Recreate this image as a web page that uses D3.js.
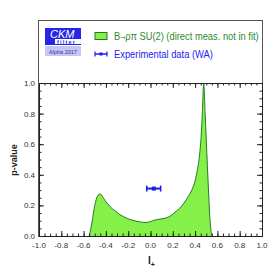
<!DOCTYPE html>
<html>
<head>
<meta charset="utf-8">
<script src="https://cdn.jsdelivr.net/npm/d3@7"></script>
<style>
    body { margin: 0; background: #fff; }
    svg { display: block; }
    text { font-family: "Liberation Sans Narrow", "Liberation Sans", Arial, sans-serif; }
</style>
</head>
<body>
<div id="chart"></div>
<script>
// p-value scan of I+ (B -> rho pi SU(2), direct meas. not in fit)
var curveX = [-0.55, -0.535, -0.52, -0.505, -0.49, -0.475, -0.46, -0.45, -0.44, -0.42, -0.39, -0.36, -0.32, -0.29, -0.25,
    -0.21, -0.17, -0.13, -0.09, -0.05, -0.02, 0.02, 0.06, 0.10, 0.14, 0.18, 0.22, 0.26, 0.30, 0.34,
    0.37, 0.40, 0.42, 0.44, 0.455, 0.465, 0.477, 0.49, 0.50, 0.51, 0.52, 0.53, 0.54, 0.55];
var curveP = [0.0, 0.05, 0.11, 0.18, 0.23, 0.262, 0.274, 0.275, 0.268, 0.245, 0.215, 0.19, 0.165, 0.148, 0.13,
    0.115, 0.105, 0.097, 0.092, 0.088, 0.09, 0.1, 0.108, 0.112, 0.118, 0.132, 0.155, 0.18, 0.215, 0.26,
    0.30, 0.36, 0.43, 0.53, 0.66, 0.80, 1.0, 0.80, 0.63, 0.46, 0.30, 0.15, 0.05, 0.0];

// experimental average
var expCenter = [0.03];
var expLow = [-0.034];
var expHigh = [0.091];
var expY = [0.31];

var xTicks = [-1.0, -0.8, -0.6, -0.4, -0.2, 0.0, 0.2, 0.4, 0.6, 0.8, 1.0];
var yTicks = [0.0, 0.2, 0.4, 0.6, 0.8, 1.0];

var legendLabels = ["B", "\u2192", "\u03c1\u03c0 SU(2) (direct meas. not in fit)", "Experimental data (WA)"];

var fillColor = "#84f048",
    edgeColor = "#237a23",
    blue = "#1c1cf0";

var W = 276, H = 276;
var margin = {top: 83, right: 14, bottom: 40, left: 39};
var width = W - margin.left - margin.right,
    height = H - margin.top - margin.bottom;

var svg = d3.select("#chart").append("svg")
    .attr("width", W)
    .attr("height", H);

var x = d3.scaleLinear().domain([-1, 1]).range([margin.left, margin.left + width]);
var y = d3.scaleLinear().domain([0, 1]).range([margin.top + height, margin.top]);

var data = curveX.map(function(d, i) { return {x: d, p: curveP[i]}; });

// outer frame (legend box shares the sides)
svg.append("rect")
    .attr("x", margin.left - 0.5)
    .attr("y", 20.5)
    .attr("width", width + 1)
    .attr("height", margin.top + height - 20)
    .attr("fill", "none")
    .attr("stroke", "#555")
    .attr("stroke-width", 1);

// filled curve
var area = d3.area()
    .x(function(d) { return x(d.x); })
    .y0(y(0))
    .y1(function(d) { return y(d.p); })
    .curve(d3.curveMonotoneX);

svg.append("path")
    .datum(data)
    .attr("d", area)
    .attr("fill", fillColor);

var line = d3.line()
    .x(function(d) { return x(d.x); })
    .y(function(d) { return y(d.p); })
    .curve(d3.curveMonotoneX);

svg.append("path")
    .datum(data)
    .attr("d", line)
    .attr("fill", "none")
    .attr("stroke", edgeColor)
    .attr("stroke-width", 1);

// axes, ticks pointing inward like ROOT
function minorTicks(lo, hi, step) {
    var out = [];
    for (var v = lo; v <= hi + 1e-9; v += step) out.push(+v.toFixed(3));
    return out;
}
var xMinor = minorTicks(-1, 1, 0.05);
var yMinor = minorTicks(0, 1, 0.05);

var axBottom = svg.append("g")
    .attr("transform", "translate(0," + y(0) + ")");
axBottom.call(d3.axisBottom(x).tickValues(xMinor).tickSize(-2.5).tickFormat(""));
axBottom.append("g").call(d3.axisBottom(x).tickValues(xTicks).tickSize(-5).tickFormat(""));

var axTop = svg.append("g")
    .attr("transform", "translate(0," + y(1) + ")");
axTop.call(d3.axisTop(x).tickValues(xMinor).tickSize(-2.5).tickFormat(""));
axTop.append("g").call(d3.axisTop(x).tickValues(xTicks).tickSize(-5).tickFormat(""));

var axLeft = svg.append("g")
    .attr("transform", "translate(" + x(-1) + ",0)");
axLeft.call(d3.axisLeft(y).tickValues(yMinor).tickSize(-2.5).tickFormat(""));
axLeft.append("g").call(d3.axisLeft(y).tickValues(yTicks).tickSize(-5).tickFormat(""));

var axRight = svg.append("g")
    .attr("transform", "translate(" + x(1) + ",0)");
axRight.call(d3.axisRight(y).tickValues(yMinor).tickSize(-2.5).tickFormat(""));
axRight.append("g").call(d3.axisRight(y).tickValues(yTicks).tickSize(-5).tickFormat(""));

svg.selectAll(".domain, .tick line")
    .attr("stroke", "#222")
    .attr("stroke-width", 1);

// tick labels
svg.append("g")
    .selectAll("text")
    .data(xTicks).enter()
    .append("text")
    .attr("x", function(d) { return x(d); })
    .attr("y", y(0) + 12)
    .attr("text-anchor", "middle")
    .attr("font-size", 8)
    .attr("fill", "#333")
    .text(function(d) { return d3.format(".1f")(d).replace("\u2212", "-"); });

svg.append("g")
    .selectAll("text")
    .data(yTicks).enter()
    .append("text")
    .attr("x", margin.left - 4)
    .attr("y", function(d) { return y(d) + 3; })
    .attr("text-anchor", "end")
    .attr("font-size", 8)
    .attr("fill", "#333")
    .text(function(d) { return d3.format(".1f")(d); });

// axis titles
var xt = svg.append("text")
    .attr("x", 148)
    .attr("y", 264)
    .attr("font-size", 10)
    .attr("font-weight", "bold")
    .attr("fill", "#222")
    .text("I");
xt.append("tspan")
    .attr("font-size", 7)
    .attr("dy", 3)
    .text("+");

svg.append("text")
    .attr("transform", "translate(17,160) rotate(-90)")
    .attr("text-anchor", "middle")
    .attr("font-size", 9)
    .attr("font-weight", "bold")
    .attr("fill", "#222")
    .text("p-value");

// experimental data point
var ey = y(expY[0]);
svg.append("line")
    .attr("x1", x(expLow[0])).attr("x2", x(expHigh[0]))
    .attr("y1", ey).attr("y2", ey)
    .attr("stroke", blue).attr("stroke-width", 2);
[expLow[0], expHigh[0]].forEach(function(v) {
    svg.append("line")
        .attr("x1", x(v)).attr("x2", x(v))
        .attr("y1", ey - 3).attr("y2", ey + 3)
        .attr("stroke", blue).attr("stroke-width", 1.5);
});
svg.append("rect")
    .attr("x", x(expCenter[0]) - 2).attr("y", ey - 2)
    .attr("width", 4).attr("height", 4)
    .attr("fill", blue);

// CKMfitter logo
var logo = svg.append("g");
logo.append("rect").attr("x", 45).attr("y", 28).attr("width", 36).attr("height", 17).attr("fill", "#2626e6");
logo.append("rect").attr("x", 55).attr("y", 39).attr("width", 26).attr("height", 5).attr("fill", "#fff");
logo.append("text")
    .attr("x", 50).attr("y", 38)
    .attr("font-size", 11).attr("font-style", "italic")
    .attr("fill", "#fff")
    .text("CKM");
logo.append("text")
    .attr("x", 57).attr("y", 43.5)
    .attr("font-size", 5.5).attr("font-weight", "bold")
    .attr("letter-spacing", 1.2)
    .attr("fill", "#2626e6")
    .text("filter");
logo.append("rect").attr("x", 45).attr("y", 46).attr("width", 36).attr("height", 10).attr("fill", "#c6c6f0");
logo.append("text")
    .attr("x", 63).attr("y", 53.5)
    .attr("text-anchor", "middle")
    .attr("font-size", 5.5)
    .attr("fill", "#3030c0")
    .text("Alpha 2017");

// squeeze a text horizontally so it spans `target` px starting at (x0, y0)
function fitText(sel, x0, y0, target) {
    var w = sel.node().getComputedTextLength();
    var k = Math.min(1, target / w);
    sel.attr("transform", "translate(" + x0 + "," + y0 + ") scale(" + k + ",1)");
}

// legend
svg.append("rect")
    .attr("x", 95).attr("y", 32.5).attr("width", 12).attr("height", 7)
    .attr("fill", fillColor).attr("stroke", edgeColor).attr("stroke-width", 1);
var leg1 = svg.append("text")
    .attr("font-size", 11)
    .attr("fill", "#2d8a2d");
leg1.append("tspan").text(legendLabels[0]);
leg1.append("tspan")
    .style("font-family", "'DejaVu Sans', sans-serif")
    .attr("font-size", 7)
    .text(legendLabels[1]);
leg1.append("tspan").text(legendLabels[2]);
fitText(leg1, 114, 40, 145);

svg.append("line").attr("x1", 95).attr("x2", 107).attr("y1", 54).attr("y2", 54)
    .attr("stroke", blue).attr("stroke-width", 1.5);
[95, 107].forEach(function(v) {
    svg.append("line").attr("x1", v).attr("x2", v).attr("y1", 51.5).attr("y2", 56.5)
        .attr("stroke", blue).attr("stroke-width", 1.2);
});
svg.append("rect").attr("x", 99.5).attr("y", 52.5).attr("width", 3).attr("height", 3).attr("fill", blue);
var leg2 = svg.append("text")
    .attr("font-size", 11)
    .attr("fill", blue)
    .text(legendLabels[3]);
fitText(leg2, 114, 58, 99);
</script>
</body>
</html>
